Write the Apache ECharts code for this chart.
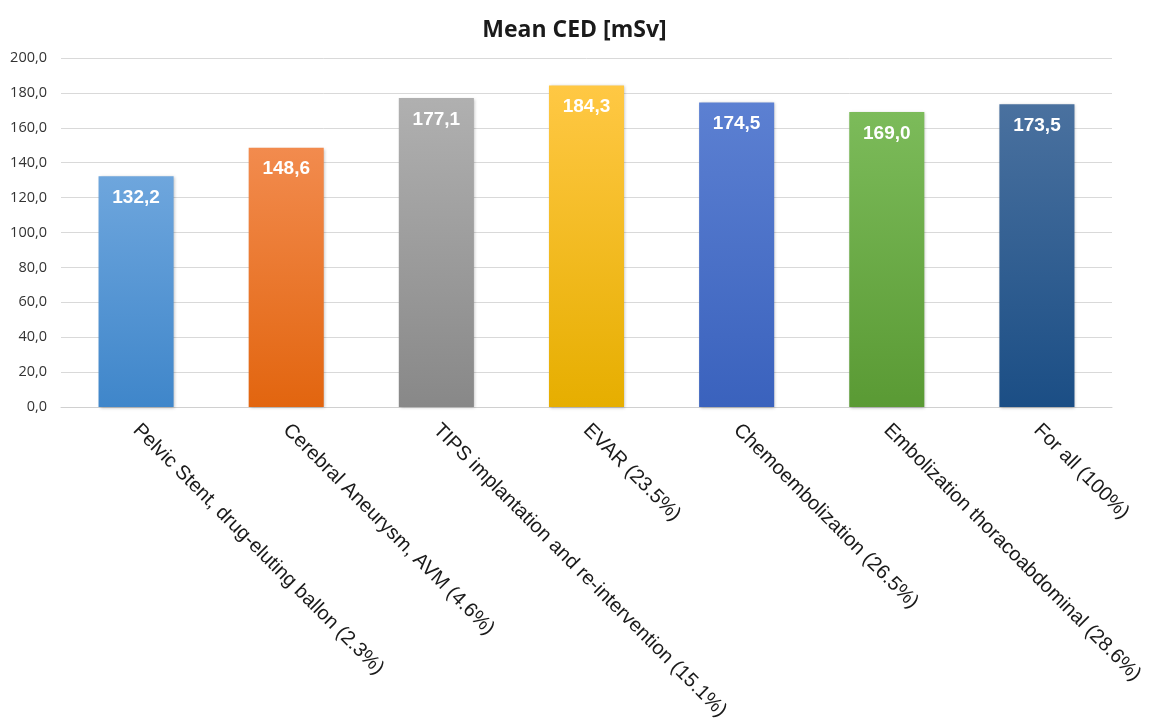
<!DOCTYPE html>
<html>
<head>
<meta charset="utf-8">
<script src="https://cdn.jsdelivr.net/npm/echarts@6/dist/echarts.min.js"></script>
<style>
html,body{margin:0;padding:0;background:#fff;}
#c{width:1149px;height:726px;}
</style>
</head>
<body>
<div id="c"></div>
<script>
const categories = [
  'Pelvic Stent, drug-eluting ballon (2.3%)',
  'Cerebral Aneurysm, AVM (4.6%)',
  'TIPS implantation and re-intervention (15.1%)',
  'EVAR (23.5%)',
  'Chemoembolization (26.5%)',
  'Embolization thoracoabdominal (28.6%)',
  'For all (100%)'
];
const values = [132.2, 148.6, 177.1, 184.3, 174.5, 169.0, 173.5];
const topColors = ['#6ea6dd', '#f28b4e', '#b0b0b0', '#ffc844', '#5c80d2', '#7cbb5a', '#4a719f'];
const bottomColors = ['#3f86ca', '#e2650f', '#888888', '#e6ae00', '#3a62bd', '#5a9a34', '#1b4e85'];
const yTicks = {min: 0, max: 200, interval: 20};

const chart = echarts.init(document.getElementById('c'), null, {renderer: 'canvas'});
const fmt = v => v.toFixed(1).replace('.', ',');
chart.setOption({
  animation: false,
  backgroundColor: '#ffffff',
  title: {
    text: 'Mean CED [mSv]',
    left: 'center',
    top: 14,
    textStyle: {fontFamily: 'Open Sans', fontWeight: 'bold', fontSize: 23, color: '#1a1a1a'}
  },
  grid: {left: 61, right: 37, top: 58, bottom: 319, containLabel: false},
  xAxis: {
    type: 'category',
    data: categories,
    axisLine: {lineStyle: {color: '#d0d0d0', width: 1}},
    axisTick: {show: false},
    axisLabel: {
      rotate: -45,
      interval: 0,
      margin: 20,
      fontFamily: 'Liberation Sans',
      fontSize: 20,
      color: '#1a1a1a'
    }
  },
  yAxis: {
    type: 'value',
    min: yTicks.min,
    max: yTicks.max,
    interval: yTicks.interval,
    axisLine: {show: false},
    axisTick: {show: false},
    splitLine: {lineStyle: {color: '#d9d9d9', width: 1}},
    axisLabel: {
      formatter: v => fmt(v),
      fontFamily: 'Open Sans',
      fontSize: 14.5,
      color: '#333333',
      margin: 14
    }
  },
  series: [{
    type: 'bar',
    barWidth: '50%',
    data: values.map((v, i) => ({
      value: v,
      itemStyle: {
        color: new echarts.graphic.LinearGradient(0, 0, 0, 1, [
          {offset: 0, color: topColors[i]},
          {offset: 1, color: bottomColors[i]}
        ]),
        shadowColor: 'rgba(0,0,0,0.25)',
        shadowBlur: 3,
        shadowOffsetX: 1,
        shadowOffsetY: 1
      }
    })),
    label: {
      show: true,
      position: 'insideTop',
      distance: 12,
      formatter: p => fmt(p.value),
      fontFamily: 'Liberation Sans',
      fontWeight: 'bold',
      fontSize: 19,
      color: '#ffffff'
    }
  }]
});
</script>
</body>
</html>
